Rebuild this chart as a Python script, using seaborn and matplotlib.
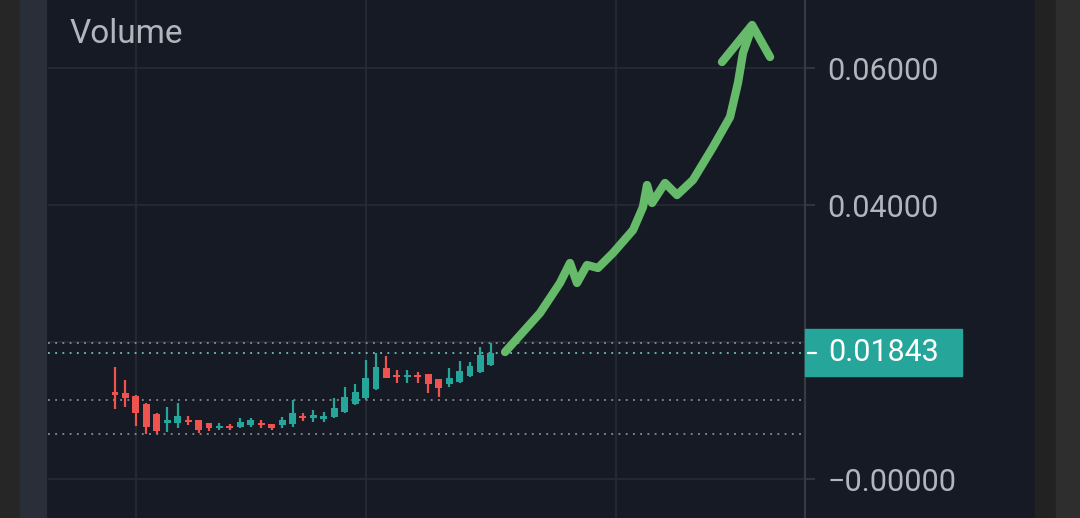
import pandas as pd
import matplotlib
matplotlib.use("Agg")
import matplotlib.pyplot as plt
import matplotlib.transforms as mtransforms
from matplotlib.patches import Rectangle
import seaborn as sns

# OHLC candles
opens = [0.01270, 0.01256, 0.01212, 0.01095, 0.00949, 0.00818, 0.00818, 0.00861, 0.00861, 0.00818,
         0.00745, 0.00774, 0.00759, 0.00788, 0.00803, 0.00803, 0.00788, 0.00803, 0.00920, 0.00891,
         0.00876, 0.00905, 0.00978, 0.01095, 0.01183, 0.01314, 0.01621, 0.01504, 0.01489, 0.01504,
         0.01533, 0.01460, 0.01387, 0.01416, 0.01504, 0.01562, 0.01664]
highs = [0.01635, 0.01445, 0.01226, 0.01110, 0.00964, 0.01051, 0.01110, 0.00920, 0.00861, 0.00818,
         0.00818, 0.00803, 0.00891, 0.00891, 0.00861, 0.00803, 0.00905, 0.01153, 0.00964, 0.01007,
         0.00978, 0.01183, 0.01343, 0.01387, 0.01737, 0.01840, 0.01796, 0.01591, 0.01591, 0.01562,
         0.01533, 0.01460, 0.01621, 0.01723, 0.01708, 0.01927, 0.01986]
lows = [0.01022, 0.01051, 0.00774, 0.00657, 0.00657, 0.00686, 0.00745, 0.00788, 0.00672, 0.00701,
        0.00715, 0.00715, 0.00745, 0.00759, 0.00745, 0.00715, 0.00745, 0.00759, 0.00847, 0.00832,
        0.00832, 0.00891, 0.00964, 0.01080, 0.01153, 0.01299, 0.01475, 0.01402, 0.01402, 0.01402,
        0.01256, 0.01197, 0.01343, 0.01402, 0.01489, 0.01548, 0.01650]
closes = [0.01226, 0.01183, 0.00964, 0.00759, 0.00701, 0.00861, 0.00920, 0.00832, 0.00715, 0.00745,
          0.00774, 0.00745, 0.00832, 0.00861, 0.00788, 0.00745, 0.00861, 0.00964, 0.00891, 0.00934,
          0.00920, 0.01037, 0.01197, 0.01270, 0.01475, 0.01635, 0.01475, 0.01489, 0.01518, 0.01489,
          0.01387, 0.01329, 0.01475, 0.01577, 0.01650, 0.01810, 0.01843]

# dotted reference levels
level_high = 0.01986
level_mid = 0.01153
level_low = 0.00657
last_price = 0.01843

# hand-drawn green arrow (candle index, price)
arrow_x = [37.36, 40.71, 42.62, 43.58, 44.25, 45.21, 46.26, 47.70, 49.62, 50.57,
           50.96, 51.44, 52.68, 53.83, 55.36, 57.28, 58.91, 59.67, 60.15, 61.02]
arrow_y = [0.01854, 0.02424, 0.02862, 0.03154, 0.02862, 0.03124, 0.03081, 0.03300, 0.03635, 0.03971,
           0.04292, 0.04030, 0.04322, 0.04146, 0.04365, 0.04847, 0.05285, 0.05782, 0.06220, 0.06599]
head_x = [58.14, 61.02, 62.74]
head_y = [0.06088, 0.06628, 0.06161]

ytick_vals = [0.0, 0.02, 0.04, 0.06]
ytick_labels = ["\u22120.00000", "", "0.04000", "0.06000"]
time_grid = [2, 24, 48]

BG = "#161a25"
GRID = "#262a35"
UP = "#26a69a"
DOWN = "#ef5350"
TXT = "#b2b5be"

sns.set_style("darkgrid", {"axes.facecolor": BG, "figure.facecolor": BG,
                           "grid.color": GRID, "axes.edgecolor": "#2f3340"})
plt.rcParams['font.family'] = ['Roboto', 'DejaVu Sans']

df = pd.DataFrame({"open": opens, "high": highs, "low": lows, "close": closes})
df["i"] = range(len(df))
df["up"] = df["close"] >= df["open"]
df["color"] = df["up"].map({True: UP, False: DOWN})
df["bottom"] = df[["open", "close"]].min(axis=1)
df["height"] = (df["close"] - df["open"]).abs().clip(lower=0.0003)

fig = plt.figure(figsize=(10.8, 5.18), dpi=100)
# side strips of the app frame
fig.patches.append(Rectangle((0, 0), 20 / 1080, 1, transform=fig.transFigure, color="#262626", zorder=0))
fig.patches.append(Rectangle((20 / 1080, 0), 26 / 1080, 1, transform=fig.transFigure, color="#2a2e39", zorder=0))
fig.patches.append(Rectangle((1035 / 1080, 0), 21 / 1080, 1, transform=fig.transFigure, color="#222222", zorder=0))
fig.patches.append(Rectangle((1056 / 1080, 0), 24 / 1080, 1, transform=fig.transFigure, color="#2e2e2e", zorder=0))

ax = fig.add_axes([48 / 1080, 0, 757 / 1080, 1])

# wicks and bodies
ax.vlines(df["i"], df["low"], df["high"], colors=df["color"], lw=1.6, zorder=3)
ax.bar(df["i"], df["height"], bottom=df["bottom"], width=0.66, color=df["color"],
       edgecolor=df["color"], linewidth=0, zorder=4)

# dotted levels
for lv, col in [(level_high, "#8a8d96"), (last_price, "#6fc3b8"), (level_mid, "#8a8d96"), (level_low, "#8a8d96")]:
    ax.axhline(lv, color=col, lw=1.3, ls=(0, (1, 3)), zorder=2)

# the arrow
sns.lineplot(x=arrow_x, y=arrow_y, sort=False, estimator=None, ax=ax, color="#66bb6a",
             lw=6, solid_capstyle="round", solid_joinstyle="round", zorder=6)
sns.lineplot(x=head_x, y=head_y, sort=False, estimator=None, ax=ax, color="#66bb6a",
             lw=6, solid_capstyle="round", solid_joinstyle="round", zorder=6)

ax.set_xlim(-6.42, 66.09)
ax.set_ylim(-0.00569, 0.06993)
ax.set_xticks(time_grid)
ax.set_xticklabels([])
ax.tick_params(axis="x", length=0)
ax.yaxis.tick_right()
ax.set_yticks(ytick_vals)
ax.set_yticklabels(ytick_labels)
ax.tick_params(axis="y", length=7, width=1.2, color="#363a45", pad=9, labelsize=22, labelcolor=TXT)
ax.grid(True, color=GRID, lw=1.3)
for s in ["top", "left", "bottom"]:
    ax.spines[s].set_visible(False)
ax.spines["right"].set_color("#363a45")
ax.spines["right"].set_linewidth(1.5)
ax.set_xlabel("")
ax.set_ylabel("")

# last price tag
trans = mtransforms.blended_transform_factory(ax.transAxes, ax.transData)
ax.add_patch(Rectangle((1.0, last_price - 0.00343), 157 / 757, 0.00686, transform=trans,
                       color=UP, clip_on=False, zorder=10))
ax.plot([1.004, 1.014], [last_price, last_price], transform=trans, color="white",
        lw=1.6, clip_on=False, zorder=11)
ax.text(1.0 + 23 / 757, last_price, "0.01843", transform=trans, color="white", fontsize=22,
        va="center", ha="left", zorder=11)

fig.text(70 / 1080, 1 - 34 / 518, "Volume", color=TXT, fontsize=24, va="center", ha="left")

fig.savefig("out.png", dpi=100, facecolor=BG)
